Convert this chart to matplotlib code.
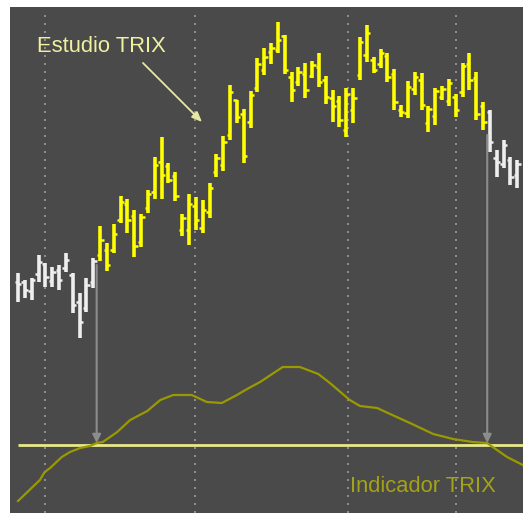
import matplotlib
matplotlib.use("Agg")
import matplotlib.pyplot as plt

# OHLC data, one bar per session (bar index = position)
highs = [32.7, 32.0, 32.2, 34.5, 33.7, 33.3, 33.5, 34.7, 32.7, 30.7, 32.2, 34.2,
         37.4, 35.7, 37.6, 40.4, 40.1, 39.0, 38.6, 41.0, 44.3, 46.3, 43.7, 42.8,
         38.6, 40.6, 40.3, 40.0, 41.7, 44.6, 46.4, 51.5, 50.0, 49.1, 50.9, 54.2,
         55.2, 55.7, 57.8, 56.5, 52.8, 53.3, 53.7, 53.9, 54.7, 52.4, 51.0, 50.4,
         51.2, 51.2, 56.3, 57.5, 54.3, 55.1, 54.7, 53.1, 49.5, 51.9, 52.8, 52.7,
         49.4, 51.2, 51.4, 52.1, 50.6, 53.7, 54.7, 52.8, 49.8,
         49.0, 45.0, 46.0, 44.3, 44.0]
lows = [29.8, 30.2, 30.0, 31.8, 31.3, 31.3, 31.0, 32.8, 28.7, 26.2, 28.8, 31.2,
        33.9, 32.9, 34.7, 37.7, 36.7, 34.3, 35.3, 38.7, 40.1, 40.1, 41.7, 39.9,
        36.4, 35.5, 37.0, 36.7, 38.2, 42.3, 42.9, 46.0, 47.7, 43.7, 47.2, 50.8,
        52.5, 53.6, 54.7, 52.6, 49.8, 51.4, 50.2, 52.2, 51.3, 49.6, 47.8, 47.3,
        46.3, 47.7, 52.0, 53.8, 52.7, 53.2, 51.8, 49.0, 48.3, 48.2, 50.5, 49.0,
        46.8, 47.5, 50.0, 49.4, 48.3, 50.3, 51.0, 48.0, 47.0,
        44.8, 42.3, 43.2, 41.5, 41.2]
opens = [31.8, 31.8, 30.9, 32.6, 33.6, 31.9, 33.0, 33.2, 32.5, 29.8, 29.2, 31.8,
         34.5, 35.0, 35.0, 38.0, 39.6, 38.4, 35.8, 39.2, 40.8, 43.8, 43.4, 42.4,
         37.0, 37.0, 39.4, 37.2, 38.8, 42.8, 43.5, 46.5, 50.0, 48.6, 47.8, 51.2,
         53.0, 54.8, 55.0, 56.4, 52.3, 51.8, 52.6, 52.4, 53.3, 52.0, 50.2, 49.9,
         47.0, 49.0, 52.5, 54.5, 54.0, 53.6, 54.4, 52.6, 49.0, 48.7, 51.1, 52.0,
         47.7, 48.4, 50.3, 49.9, 50.3, 50.8, 53.6, 52.2, 49.4,
         48.8, 44.2, 43.6, 44.0, 42.5]
closes = [31.6, 31.0, 32.0, 33.8, 32.3, 32.8, 32.0, 34.0, 29.5, 27.8, 31.5, 33.9,
          36.0, 33.5, 36.6, 39.8, 38.0, 35.4, 38.3, 40.6, 43.5, 42.5, 42.0, 40.4,
          38.2, 39.6, 38.0, 39.0, 41.2, 44.2, 45.8, 50.8, 48.3, 44.4, 50.5, 53.6,
          54.3, 55.2, 56.0, 53.0, 51.0, 52.8, 51.0, 53.5, 51.8, 50.3, 49.4, 48.0,
          50.6, 50.2, 55.8, 56.7, 53.0, 54.7, 52.3, 49.8, 48.8, 51.3, 52.3, 49.5,
          49.1, 50.9, 51.1, 51.7, 49.0, 53.4, 52.0, 48.6, 47.8,
          45.8, 43.8, 45.5, 42.3, 43.6]

# bars that belong to the highlighted TRIX study (between the two zero crossings)
study_start = 12
study_end = 68

# TRIX indicator, read at (bar index, value)
trix_x = [0, 3.2, 3.9, 4.7, 6.4, 7.6, 9.1, 10.5, 11.5, 12.4, 14.5, 16.4, 18.9,
          20.8, 22.7, 25.4, 27.6, 29.8, 32.0, 33.5, 35.4, 38.7, 41.2, 43.9, 45.6,
          48.5, 50.0, 52.5, 54.4, 57.3, 60.7, 63.6, 66.5, 68.6, 69.4, 71.5, 73.8]
trix_val = [-0.28, -0.175, -0.135, -0.115, -0.06, -0.035, -0.015, -0.005, 0.01,
            0.015, 0.065, 0.125, 0.17, 0.225, 0.25, 0.25, 0.215, 0.21, 0.25, 0.28,
            0.315, 0.39, 0.39, 0.355, 0.31, 0.225, 0.195, 0.185, 0.155, 0.11,
            0.055, 0.03, 0.015, 0.01, -0.01, -0.06, -0.10]

# signal arrows: (bar index, price where the arrow starts)
signals = [(11.5, 33.5), (68.6, 46.5)]

# vertical dotted separators (bar index)
separators = [3.95, 25.9, 48.25, 64.0]

bg = "#4a4a4a"
fig = plt.figure(figsize=(5.23, 5.13), dpi=100)
fig.patch.set_facecolor("white")

ax = fig.add_axes([10 / 523, 0, 513 / 523, 506 / 513])
ax.set_facecolor(bg)
ax.set_xlim(-1.17, 73.83)
ax.set_ylim(8.7, 59.3)
ax.axis("off")
ax.add_patch(plt.Rectangle((0, 0), 1, 1, transform=ax.transAxes,
                           color=bg, zorder=0))

ax2 = fig.add_axes([10 / 523, 0, 513 / 523, 506 / 513], sharex=ax)
ax2.patch.set_alpha(0)
ax2.set_ylim(-0.34, 2.19)
ax2.axis("off")

# dotted separators
for s in separators:
    ax.axvline(s, ymin=0, ymax=0.99, color="#8c8c8c", lw=1.44,
               linestyle=(0, (1, 3)), zorder=1)

# OHLC bars
for i in range(len(highs)):
    c = "#ffff00" if study_start <= i <= study_end else "#eeeeee"
    ax.vlines(i, lows[i], highs[i], color=c, lw=2.6, zorder=3)
    ax.hlines(opens[i], i - 0.5, i, color=c, lw=1.8, zorder=3)
    ax.hlines(closes[i], i, i + 0.5, color=c, lw=1.8, zorder=3)

# TRIX line and zero line
ax2.hlines(0, 0, 73.83, color="#e8e88a", lw=2.0, zorder=2)
ax2.plot(trix_x, trix_val, color="#9a9a00", lw=1.6, zorder=3)

# signal arrows from price down to the zero line
for sx, sp in signals:
    ax2.annotate("", xy=(sx, 0.01), xycoords="data",
                 xytext=(sx, sp), textcoords=ax.transData,
                 arrowprops=dict(arrowstyle="-|>,head_length=0.5,head_width=0.25",
                                 color="#8c8c8c", lw=1.5, shrinkA=0, shrinkB=0),
                 zorder=4)

# labels
fig.text(37 / 523, 1 - 52 / 513, "Estudio TRIX", color="#f0f0a0",
         fontsize=15.8, family="Liberation Sans", va="baseline", ha="left")
fig.text(350 / 523, 1 - 492 / 513, "Indicador TRIX", color="#a3a317",
         fontsize=15.8, family="Liberation Sans", va="baseline", ha="left")
ax.annotate("", xy=(202, 513 - 122), xycoords="figure pixels",
            xytext=(143, 513 - 63), textcoords="figure pixels",
            arrowprops=dict(arrowstyle="-|>,head_length=0.6,head_width=0.25",
                            color="#e8e8a0", lw=1.3, shrinkA=0, shrinkB=0))

fig.savefig("out.png", dpi=100, facecolor="white")
